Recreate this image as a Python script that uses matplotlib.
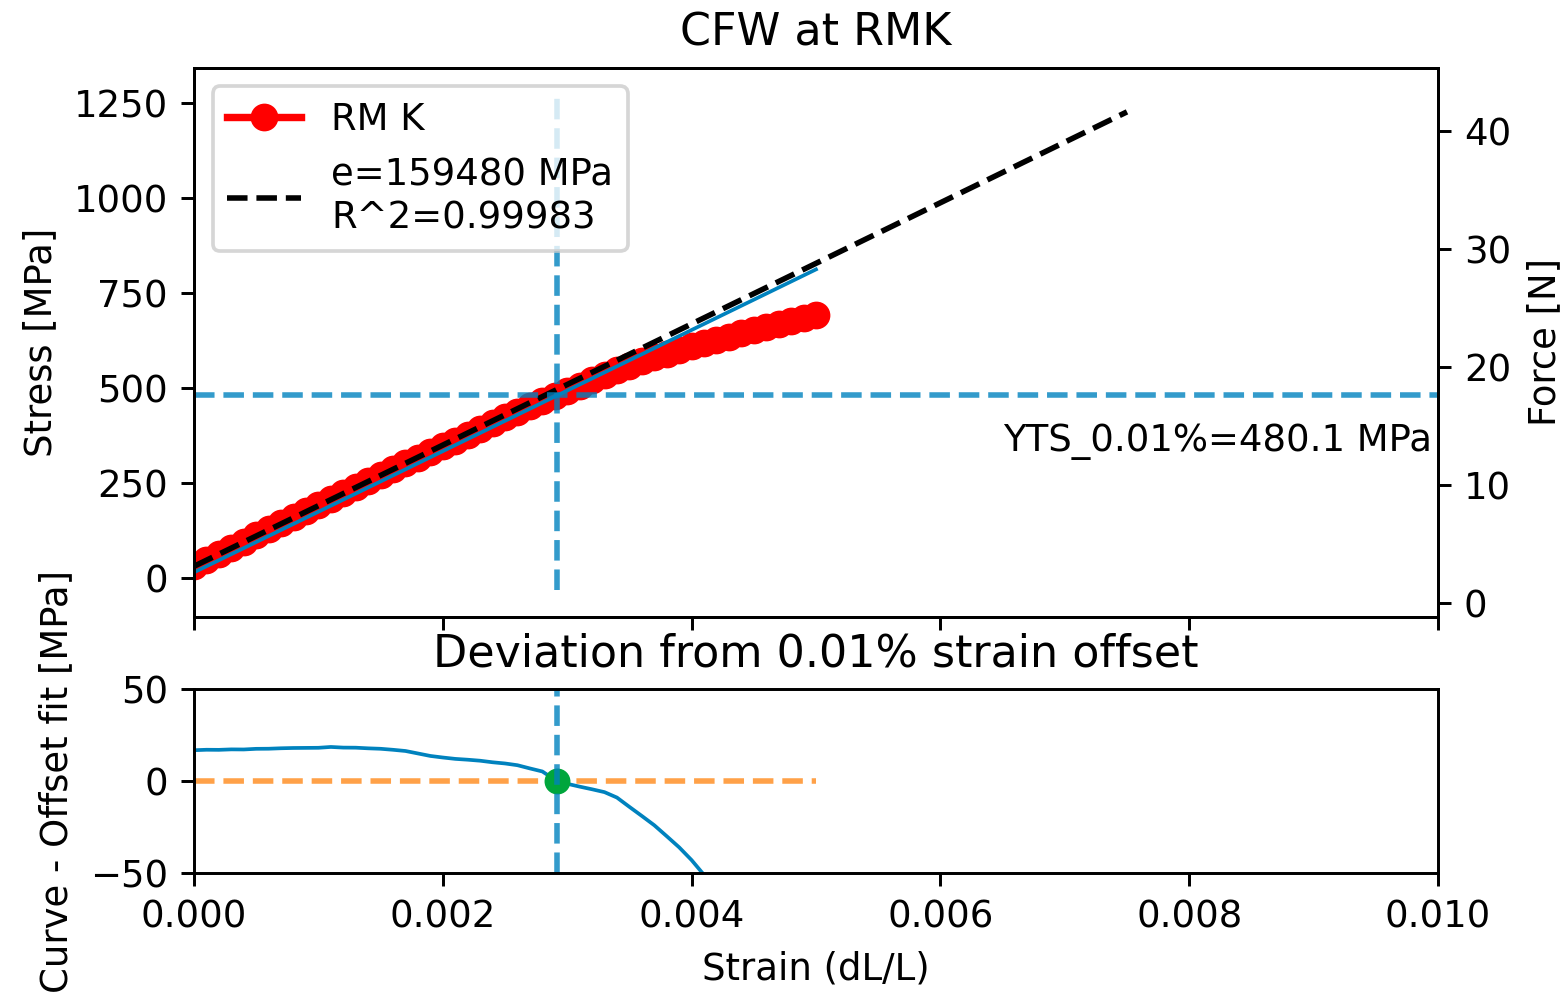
import matplotlib
matplotlib.use("Agg")
import matplotlib.pyplot as plt
import numpy as np

# ---------------- data ----------------
strain = [0.0000, 0.0001, 0.0002, 0.0003, 0.0004, 0.0005, 0.0006, 0.0007, 0.0008, 0.0009,
          0.0010, 0.0011, 0.0012, 0.0013, 0.0014, 0.0015, 0.0016, 0.0017, 0.0018, 0.0019,
          0.0020, 0.0021, 0.0022, 0.0023, 0.0024, 0.0025, 0.0026, 0.0027, 0.0028, 0.0029,
          0.0030, 0.0031, 0.0032, 0.0033, 0.0034, 0.0035, 0.0036, 0.0037, 0.0038, 0.0039,
          0.0040, 0.0041, 0.0042, 0.0043, 0.0044, 0.0045, 0.0046, 0.0047, 0.0048, 0.0049,
          0.0050]
stress = [31.2, 47.4, 63.3, 79.5, 95.4, 111.7, 127.7, 143.9, 160.0, 176.0,
          192.0, 208.4, 224.0, 239.9, 255.5, 271.2, 286.6, 301.9, 316.5, 331.1,
          346.2, 361.4, 376.9, 392.3, 407.4, 422.7, 437.7, 451.9, 466.2, 477.7,
          491.4, 505.8, 520.3, 534.7, 547.7, 558.6, 569.6, 580.5, 590.5, 600.4,
          609.4, 617.3, 626.3, 635.2, 644.2, 653.1, 661.1, 669.0, 677.0, 683.9,
          690.9]

series_label = "RM K"
E_MOD = 159480.0          # MPa
FIT_INTERCEPT = 30.4      # MPa
R_SQUARED = 0.99983
STRAIN_OFFSET = 0.0001    # 0.01 %
FIT_END = 0.0075
OFFSET_END = 0.0050
YTS = 480.1               # MPa
YTS_STRAIN = 0.00292

title_top = "CFW at RMK"
title_bottom = "Deviation from 0.01% strain offset"
x_ticks = [0.000, 0.002, 0.004, 0.006, 0.008, 0.010]
stress_ticks = [0, 250, 500, 750, 1000, 1250]
force_ticks = [0, 10, 20, 30, 40]
dev_ticks = [-50, 0, 50]

# ---------------- derived curves ----------------
strain_a = np.array(strain)
stress_a = np.array(stress)
fit_x = np.array([0.0, FIT_END])
fit_y = E_MOD * fit_x + FIT_INTERCEPT
off_x = np.array([0.0, OFFSET_END])
off_y = E_MOD * (off_x - STRAIN_OFFSET) + FIT_INTERCEPT
deviation = stress_a - (E_MOD * (strain_a - STRAIN_OFFSET) + FIT_INTERCEPT)

# ---------------- figure ----------------
DPI = 266.4
fig = plt.figure(figsize=(1562 / DPI, 994 / DPI), dpi=DPI)
ax1 = fig.add_axes([0.1242, 0.3793, 0.7964, 0.5523])
ax2 = fig.add_axes([0.1242, 0.1217, 0.7964, 0.1851], sharex=ax1)

BLUE = "#0082be"
ORANGE = "#ff8a1a"
GREEN = "#00a63c"

ax1.plot(strain_a, stress_a, "-o", color="red", lw=2, ms=6.5, label=series_label)
ax1.plot(fit_x, fit_y, "--", color="black", lw=1.5,
         label=f"e={E_MOD:.0f} MPa\nR^2={R_SQUARED}")
ax1.plot(off_x, off_y, "-", color=BLUE, lw=1)
ax1.axhline(YTS, ls="--", color=BLUE, alpha=0.8, lw=1.5)
ax1.axvline(YTS_STRAIN, ymin=0.05, ymax=0.95, ls="--", color=BLUE, alpha=0.8, lw=1.5)
ax1.text(0.995, YTS * 0.75, f"YTS_0.01%={YTS} MPa", ha="right", va="center",
         transform=ax1.get_yaxis_transform(), fontsize=10)
ax1.set_ylim(-103, 1342)
ax1.set_yticks(stress_ticks)
ax1.set_ylabel("Stress [MPa]")
ax1.set_title(title_top, fontsize=12)
ax1.legend(loc="upper left")
plt.setp(ax1.get_xticklabels(), visible=False)

axr = ax1.twinx()
axr.set_ylim(-1.19, 45.3)
axr.set_yticks(force_ticks)
axr.set_ylabel("Force [N]")

ax2.plot(strain_a, deviation, "-", color=BLUE, lw=1)
ax2.plot(off_x, [0, 0], "--", color=ORANGE, alpha=0.8, lw=1.5)
ax2.plot([YTS_STRAIN], [0], "o", color=GREEN, ms=6)
ax2.axvline(YTS_STRAIN, ls="--", color=BLUE, alpha=0.8, lw=1.5)
ax2.set_ylim(-50, 50)
ax2.set_yticks(dev_ticks)
ax2.set_xlim(0, 0.010)
ax2.set_xticks(x_ticks)
ax2.set_xticklabels([f"{t:.3f}" for t in x_ticks])
ax2.set_title(title_bottom, fontsize=12)
ax2.set_xlabel("Strain (dL/L)")
ax2.set_ylabel("Curve - Offset fit [MPa]")

fig.savefig("out.png", dpi=DPI)
